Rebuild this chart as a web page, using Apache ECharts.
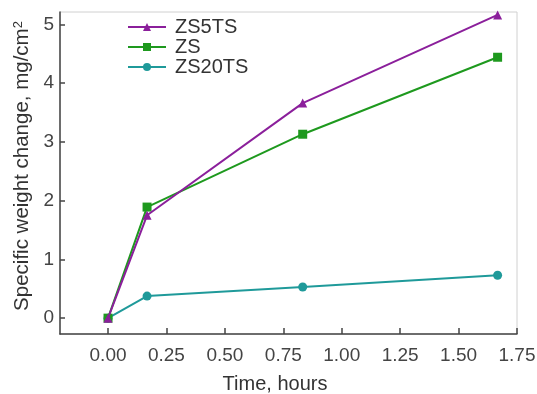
<!DOCTYPE html>
<html><head><meta charset="utf-8">
<script src="https://cdn.jsdelivr.net/npm/echarts@6/dist/echarts.min.js"></script>
<style>html,body{margin:0;padding:0;background:#fff}#c{width:537px;height:394px}</style>
</head><body><div id="c"></div>
<script>
const times = [0, 0.167, 0.833, 1.667];
const zs5ts = [0, 1.75, 3.66, 5.16];
const zs = [0, 1.89, 3.13, 4.44];
const zs20ts = [0, 0.375, 0.53, 0.73];
const xTicks = [0, 0.25, 0.5, 0.75, 1.0, 1.25, 1.5, 1.75];
const yTicks = [0, 1, 2, 3, 4, 5];
const seriesNames = ['ZS5TS', 'ZS', 'ZS20TS'];

const pair = arr => times.map((t, i) => [t, arr[i]]);
const font = 'Liberation Sans, Arial, sans-serif';
const chart = echarts.init(document.getElementById('c'), null, {renderer: 'canvas'});
chart.setOption({
  animation: false,
  backgroundColor: '#fff',
  grid: {left: 60, right: 20, top: 12, bottom: 60, show: true, borderColor: '#d0d0d0', borderWidth: 1,
    outerBoundsMode: 'none', containLabel: false},
  legend: {
    orient: 'vertical', left: 122, top: 12, itemWidth: 38, itemHeight: 10, itemGap: 0,
    textStyle: {fontFamily: font, fontSize: 20, lineHeight: 19.5, color: '#333', padding: [0,0,0,4]},
    data: seriesNames
  },
  xAxis: {
    type: 'value', min: -0.2055, max: 1.75,
    name: 'Time, hours', nameLocation: 'middle', nameGap: 40,
    nameTextStyle: {fontFamily: font, fontSize: 20, color: '#333', padding: [0, 27, 0, 0]},
    axisLine: {show: true, onZero: false, lineStyle: {color: '#444', width: 1.5}},
    axisTick: {show: true, inside: true, length: 6, customValues: xTicks, lineStyle: {color: '#444', width: 1.5}},
    axisLabel: {customValues: xTicks, margin: 12, fontFamily: font, fontSize: 19, color: '#444',
      formatter: v => v.toFixed(2)},
    splitLine: {show: false}
  },
  yAxis: {
    type: 'value', min: -0.27, max: 5.21,
    name: 'Specific weight change, mg/cm{sup|2}', nameLocation: 'middle', nameGap: 21, nameRotate: 90,
    nameTextStyle: {fontFamily: font, fontSize: 20.5, color: '#333', padding: [0, 0, 0, 14],
      rich: {sup: {fontFamily: font, fontSize: 13, color: '#333', verticalAlign: 'top', padding: [0,0,8,0]}}},
    axisLine: {show: true, onZero: false, lineStyle: {color: '#444', width: 1.5}},
    axisTick: {show: true, inside: true, length: 5, customValues: yTicks, lineStyle: {color: '#444', width: 1.5}},
    axisLabel: {customValues: yTicks, margin: 6, fontFamily: font, fontSize: 19, color: '#444'},
    splitLine: {show: false}
  },
  series: [
    {name: 'ZS5TS', type: 'line', data: pair(zs5ts), symbol: 'triangle', symbolSize: 9,
      color: '#8B1F9B', lineStyle: {width: 2}, z: 3},
    {name: 'ZS', type: 'line', data: pair(zs), symbol: 'rect', symbolSize: 9,
      color: '#1E991E', lineStyle: {width: 2}, z: 2},
    {name: 'ZS20TS', type: 'line', data: pair(zs20ts), symbol: 'circle', symbolSize: 9,
      color: '#1F9A9A', lineStyle: {width: 2}, z: 1}
  ]
});
</script></body></html>
